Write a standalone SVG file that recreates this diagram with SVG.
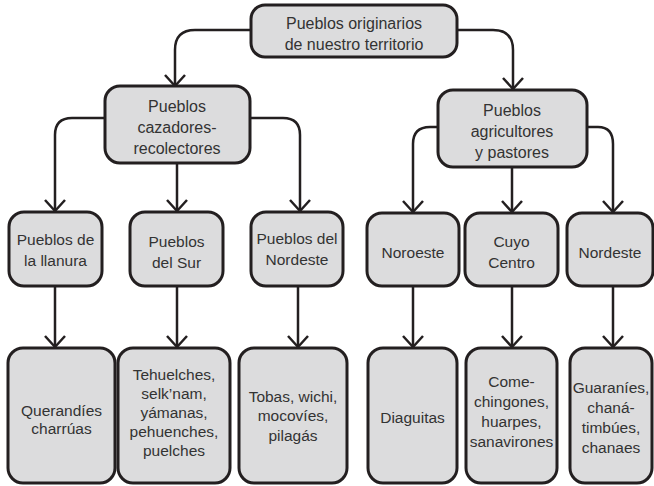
<svg xmlns="http://www.w3.org/2000/svg" width="654" height="486" viewBox="0 0 654 486">
<defs>
<style>
.box{fill:#dcdcdd;stroke:#231f20;stroke-width:3}
.t{font-family:"Liberation Sans",Arial,sans-serif;font-size:16px;fill:#333333;text-anchor:middle}
.s{font-size:15.5px}
.c{fill:none;stroke:#231f20;stroke-width:2.5}
</style>
<marker id="arr" markerUnits="userSpaceOnUse" markerWidth="28" markerHeight="28" viewBox="-14 -14 16 28" refX="0" refY="0" orient="auto">
<path d="M-11,-10 L0,0 L-11,10" fill="none" stroke="#231f20" stroke-width="2.5"/>
</marker>
</defs>
<rect width="654" height="486" fill="#ffffff"/>
<g id="connectors">
<path class="c" d="M251,30 H195 Q175,30 175,50 V86" marker-end="url(#arr)"/>
<path class="c" d="M457,30 H493 Q513,30 513,50 V89" marker-end="url(#arr)"/>
<path class="c" d="M105,118 H72 Q55,118 55,135 V211" marker-end="url(#arr)"/>
<path class="c" d="M177,163 V211" marker-end="url(#arr)"/>
<path class="c" d="M250,118 H283 Q300,118 300,135 V211" marker-end="url(#arr)"/>
<path class="c" d="M438,127 H430 Q413,127 413,144 V212" marker-end="url(#arr)"/>
<path class="c" d="M512,167 V212" marker-end="url(#arr)"/>
<path class="c" d="M587,127 H598 Q613,127 613,144 V212" marker-end="url(#arr)"/>
<path class="c" d="M55,286 V347" marker-end="url(#arr)"/>
<path class="c" d="M177,286 V347" marker-end="url(#arr)"/>
<path class="c" d="M298,286 V347" marker-end="url(#arr)"/>
<path class="c" d="M413,286 V347" marker-end="url(#arr)"/>
<path class="c" d="M512,286 V347" marker-end="url(#arr)"/>
<path class="c" d="M613,286 V347" marker-end="url(#arr)"/>
</g>
<g id="n-root">
<rect class="box" x="251" y="5" width="206" height="52" rx="14"/>
<text class="t" x="354" y="29">Pueblos originarios</text>
<text class="t" x="354" y="50">de nuestro territorio</text>
</g>
<g id="n-cazadores">
<rect class="box" x="105" y="86" width="145" height="77" rx="15"/>
<text class="t" x="177" y="112">Pueblos</text>
<text class="t" x="177" y="133">cazadores-</text>
<text class="t" x="177" y="154">recolectores</text>
</g>
<g id="n-agricultores">
<rect class="box" x="438" y="90" width="149" height="77" rx="15"/>
<text class="t" x="512" y="116">Pueblos</text>
<text class="t" x="512" y="137">agricultores</text>
<text class="t" x="512" y="158">y pastores</text>
</g>
<g id="n-llanura">
<rect class="box" x="9" y="212" width="93" height="74" rx="15"/>
<text class="t s" x="55.5" y="245">Pueblos de</text>
<text class="t s" x="55.5" y="266">la llanura</text>
</g>
<g id="n-sur">
<rect class="box" x="130" y="212" width="93" height="74" rx="15"/>
<text class="t s" x="176.5" y="247">Pueblos</text>
<text class="t s" x="176.5" y="268">del Sur</text>
</g>
<g id="n-nordeste1">
<rect class="box" x="251" y="212" width="92" height="74" rx="15"/>
<text class="t s" x="297" y="244">Pueblos del</text>
<text class="t s" x="297" y="265">Nordeste</text>
</g>
<g id="n-noroeste">
<rect class="box" x="367" y="213" width="92" height="73" rx="15"/>
<text class="t s" x="413" y="258">Noroeste</text>
</g>
<g id="n-cuyo">
<rect class="box" x="465" y="213" width="93" height="73" rx="15"/>
<text class="t s" x="511.5" y="247">Cuyo</text>
<text class="t s" x="511.5" y="268">Centro</text>
</g>
<g id="n-nordeste2">
<rect class="box" x="567" y="213" width="86" height="73" rx="15"/>
<text class="t s" x="610" y="258">Nordeste</text>
</g>
<g id="n-querandies">
<rect class="box" x="8" y="348" width="107" height="135" rx="15"/>
<text class="t s" x="61.5" y="416">Querandíes</text>
<text class="t s" x="61.5" y="434">charrúas</text>
</g>
<g id="n-tehuelches">
<rect class="box" x="118" y="348" width="112" height="135" rx="15"/>
<text class="t s" x="174" y="380">Tehuelches,</text>
<text class="t s" x="174" y="399">selk’nam,</text>
<text class="t s" x="174" y="418">yámanas,</text>
<text class="t s" x="174" y="437">pehuenches,</text>
<text class="t s" x="174" y="456">puelches</text>
</g>
<g id="n-tobas">
<rect class="box" x="239" y="348" width="108" height="135" rx="15"/>
<text class="t s" x="293" y="402">Tobas, wichi,</text>
<text class="t s" x="293" y="421">mocovíes,</text>
<text class="t s" x="293" y="441">pilagás</text>
</g>
<g id="n-diaguitas">
<rect class="box" x="368" y="348" width="89" height="135" rx="15"/>
<text class="t s" x="412.5" y="423">Diaguitas</text>
</g>
<g id="n-comechingones">
<rect class="box" x="466" y="348" width="91" height="135" rx="15"/>
<text class="t s" x="511.5" y="387">Come-</text>
<text class="t s" x="511.5" y="407">chingones,</text>
<text class="t s" x="511.5" y="427">huarpes,</text>
<text class="t s" x="511.5" y="447">sanavirones</text>
</g>
<g id="n-guaranies">
<rect class="box" x="570" y="348" width="82" height="135" rx="15"/>
<text class="t s" x="611" y="393">Guaraníes,</text>
<text class="t s" x="611" y="413">chaná-</text>
<text class="t s" x="611" y="433">timbúes,</text>
<text class="t s" x="611" y="453">chanaes</text>
</g>
</svg>
